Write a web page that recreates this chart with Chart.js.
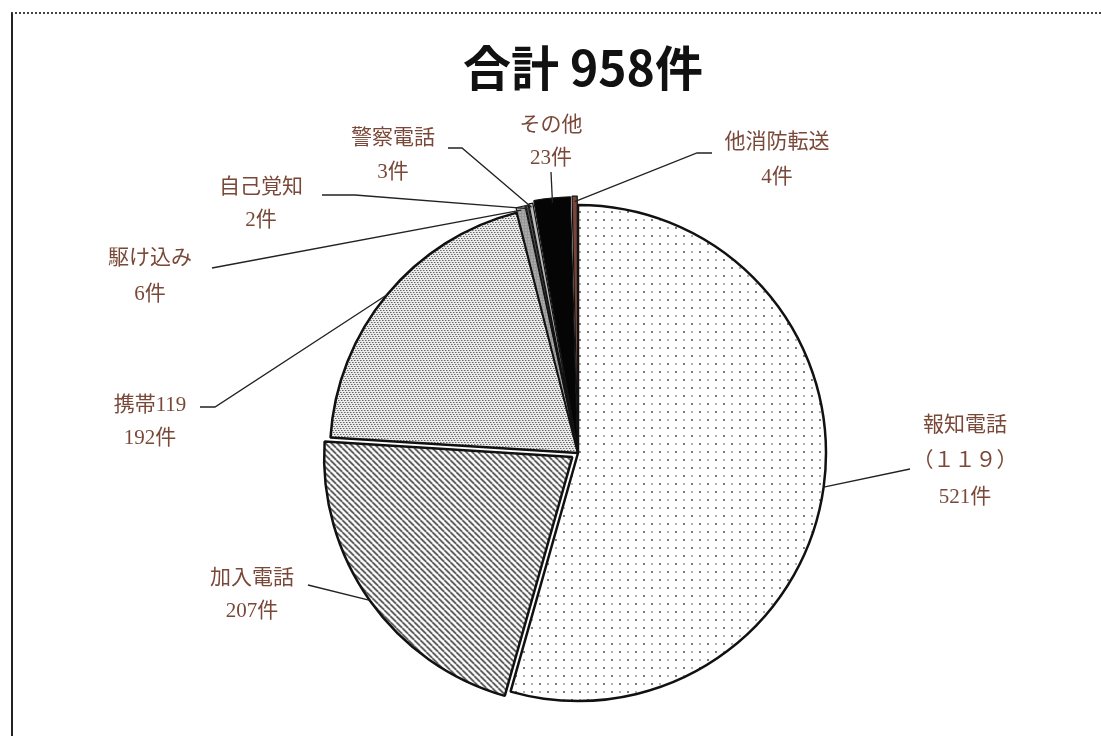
<!DOCTYPE html>
<html lang="ja">
<head>
<meta charset="utf-8">
<title>合計 958件</title>
<script src="https://cdn.jsdelivr.net/npm/chart.js@4.4.1/dist/chart.umd.min.js"></script>
<style>
  html, body { margin: 0; padding: 0; background: #fff; }
  #wrap { position: relative; width: 1101px; height: 736px; overflow: hidden; }
  #frame {
    position: absolute; left: 11px; top: 12px; width: 1200px; height: 800px;
    border-left: 2px solid #222; border-top: 2px dotted #444;
  }
  #chart { position: absolute; left: 0; top: 0; }
</style>
</head>
<body>
<div id="wrap">
  <div id="frame"></div>
  <canvas id="chart" width="1101" height="736"></canvas>
</div>
<script>
// 受信種別ごとの件数（12時の位置から時計回り）
const categories = ['報知電話（１１９）', '加入電話', '携帯119', '駆け込み', '自己覚知', '警察電話', 'その他', '他消防転送'];
const counts = [521, 207, 192, 6, 2, 3, 23, 4];
// ラベルとして表示する各行（最後に「○件」が付く）
const labelLines = [
  ['報知電話', '（１１９）'],
  ['加入電話'],
  ['携帯119'],
  ['駆け込み'],
  ['自己覚知'],
  ['警察電話'],
  ['その他'],
  ['他消防転送']
];

const total = counts.reduce((a, b) => a + b, 0);

// 塗りパターン
const scratch = document.createElement('canvas').getContext('2d');
function makePattern(size, draw) {
  const c = document.createElement('canvas');
  c.width = c.height = size;
  const g = c.getContext('2d');
  draw(g, size);
  return scratch.createPattern(c, 'repeat');
}
const dotPattern = makePattern(16, (g, s) => {
  g.fillStyle = '#fff'; g.fillRect(0, 0, s, s);
  g.fillStyle = '#7a7a7a'; g.fillRect(3, 3, 2, 2); g.fillRect(11, 11, 2, 2);
  g.fillStyle = '#b0b0b0'; g.fillRect(11, 3, 2, 2); g.fillRect(3, 11, 2, 2);
});
const hatchPattern = makePattern(6, (g, s) => {
  g.fillStyle = '#fff'; g.fillRect(0, 0, s, s);
  g.strokeStyle = '#444'; g.lineWidth = 1.6;
  for (const k of [-s, 0, s]) { g.beginPath(); g.moveTo(k, 0); g.lineTo(k + s, s); g.stroke(); }
});
const stipplePattern = makePattern(6, (g, s) => {
  g.fillStyle = '#ececec'; g.fillRect(0, 0, s, s);
  g.fillStyle = '#666';
  [[0, 0], [3, 0], [1, 2], [4, 2], [2, 4], [5, 4]].forEach(([x, y]) => g.fillRect(x, y, 1, 1));
  g.fillStyle = '#aaa';
  [[1, 0], [4, 0], [2, 2], [5, 2], [3, 4], [0, 4]].forEach(([x, y]) => g.fillRect(x, y, 1, 1));
});
const greyDotPattern = makePattern(3, (g, s) => {
  g.fillStyle = '#999'; g.fillRect(0, 0, s, s);
  g.fillStyle = '#ddd'; g.fillRect(1, 1, 1, 1);
});

const fills = [dotPattern, hatchPattern, stipplePattern, greyDotPattern, '#555', '#bbb', '#050505', '#7a4438'];
// 切り離し量（Chart.js の arc は offset の 1/4 だけ平行移動する）
const offsets = [0, 28, 0, 10, 10, 12, 18, 18];
const borderWidths = [2.5, 2.5, 2.5, 1.2, 1.2, 1.2, 1.2, 1.2];

// ラベル配置：文字の中心と引き出し線の折れ点
const labelLayout = [
  { x: 965, y: 425, gap: 36, elbow: [910, 469], start: [910, 469] },
  { x: 252, y: 578, gap: 33, elbow: [308, 585], start: [308, 585] },
  { x: 150, y: 405, gap: 33, elbow: [215, 407], start: [200, 407] },
  { x: 150, y: 258, gap: 36, elbow: [212, 268], start: [212, 268] },
  { x: 261, y: 187, gap: 33, elbow: [355, 195], start: [322, 195] },
  { x: 393, y: 138, gap: 34, elbow: [462, 148], start: [448, 148] },
  { x: 551, y: 125, gap: 33, elbow: [551, 172], start: [551, 172] },
  { x: 777, y: 142, gap: 35, elbow: [697, 153], start: [712, 153] }
];

const labelPlugin = {
  id: 'sliceLabels',
  afterDraw(chart) {
    const ctx = chart.ctx;
    const meta = chart.getDatasetMeta(0);
    ctx.save();
    // 表題
    ctx.fillStyle = '#111';
    ctx.font = 'bold 48px "Noto Sans CJK JP", "Noto Sans", sans-serif';
    ctx.textAlign = 'center';
    ctx.textBaseline = 'middle';
    ctx.fillText('合計 ' + total + '件', 583, 68);

    meta.data.forEach((arc, i) => {
      const p = arc.getProps(['x', 'y', 'startAngle', 'endAngle', 'outerRadius'], true);
      const mid = (p.startAngle + p.endAngle) / 2;
      const shift = offsets[i] / 4;
      const r = p.outerRadius - (counts[i] < 30 ? 1 : 0);
      const ax = p.x + Math.cos(mid) * (r + shift);
      const ay = p.y + Math.sin(mid) * (r + shift);
      const L = labelLayout[i];

      ctx.strokeStyle = '#222';
      ctx.lineWidth = 1.3;
      ctx.beginPath();
      ctx.moveTo(L.start[0], L.start[1]);
      ctx.lineTo(L.elbow[0], L.elbow[1]);
      ctx.lineTo(ax, ay);
      ctx.stroke();

      ctx.fillStyle = '#7a4838';
      ctx.font = '21px "Liberation Serif", "Noto Sans CJK JP", serif';
      const lines = labelLines[i].concat([counts[i] + '件']);
      lines.forEach((t, k) => ctx.fillText(t, L.x, L.y + k * L.gap));
    });
    ctx.restore();
  }
};

new Chart(document.getElementById('chart'), {
  type: 'pie',
  data: {
    labels: categories,
    datasets: [{
      data: counts,
      backgroundColor: fills,
      borderColor: '#111',
      borderWidth: borderWidths,
      offset: offsets
    }]
  },
  options: {
    responsive: false,
    animation: false,
    devicePixelRatio: 1,
    radius: 248,
    layout: { padding: { left: 300, right: 245, top: 190, bottom: 20 } },
    plugins: { legend: { display: false }, tooltip: { enabled: false }, title: { display: false } }
  },
  plugins: [labelPlugin]
});
</script>
</body>
</html>
